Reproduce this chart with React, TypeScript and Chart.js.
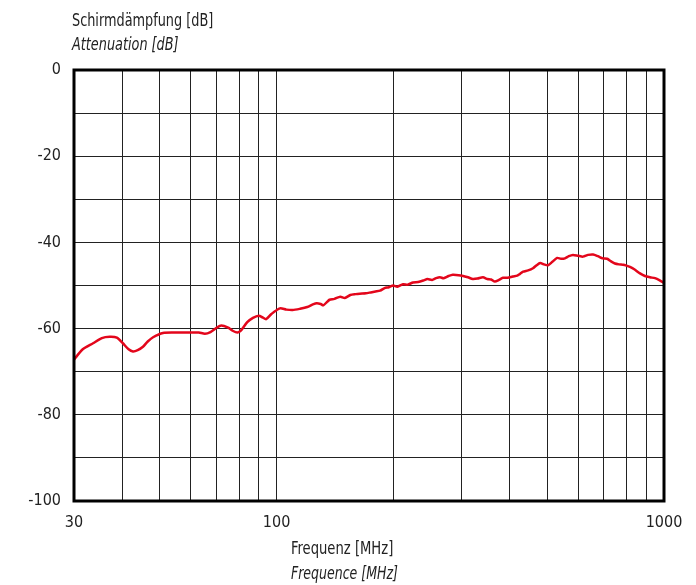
import { useEffect, useRef } from 'react';
import { Chart, registerables } from 'chart.js';

Chart.register(...registerables);

// Frequency in MHz
const FREQ_MHZ = [
  30, 31.6, 33.6, 35.4, 37.1, 38.7, 40.1, 41.5, 42.6, 43.8, 45.2, 46.5, 48, 50.9, 55, 60.9, 63, 65.3, 67.5, 70,
  72, 75, 77, 79.3, 81, 84, 86.9, 90, 92, 94, 97, 102, 106, 110, 115, 120, 124, 127, 130, 132,
  135, 137, 141, 146, 150, 155, 160, 164, 170, 175, 180, 185, 190, 195, 200, 205, 212, 218, 225, 232,
  240, 245, 252, 258, 264, 270, 278, 285, 295, 303, 312, 321, 330, 341, 350, 358, 366, 375, 384, 395,
  407, 418, 425, 433, 446, 459, 469, 479, 490, 502, 515, 530, 542, 555, 568, 582, 600, 618, 637, 656,
  675, 695, 713, 730, 747, 765, 784, 800, 817, 840, 867, 893, 920, 948, 975, 1000,
];

// Screening attenuation in dB
const ATTEN_DB = [
  -67.2, -64.8, -63.4, -62.2, -61.9, -62.1, -63.4, -64.8, -65.3, -65.0, -64.2, -63.0, -62.0, -61.0, -60.9, -60.9, -60.9, -61.2, -60.8, -59.8,
  -59.3, -59.8, -60.5, -60.9, -60.4, -58.5, -57.5, -57.0, -57.4, -57.8, -56.6, -55.3, -55.6, -55.7, -55.4, -55.0, -54.4, -54.1, -54.3, -54.6,
  -53.8, -53.3, -53.1, -52.6, -52.9, -52.2, -52.0, -51.9, -51.8, -51.6, -51.4, -51.2, -50.6, -50.4, -50.0, -50.3, -49.7, -49.8, -49.3, -49.2,
  -48.8, -48.5, -48.7, -48.3, -48.1, -48.3, -47.8, -47.5, -47.6, -47.8, -48.1, -48.5, -48.4, -48.1, -48.5, -48.6, -49.1, -48.7, -48.2, -48.2,
  -47.9, -47.7, -47.3, -46.8, -46.5, -46.0, -45.3, -44.8, -45.1, -45.3, -44.5, -43.6, -43.8, -43.7, -43.2, -42.9, -43.1, -43.3, -42.9, -42.8,
  -43.2, -43.7, -43.8, -44.4, -44.9, -45.1, -45.2, -45.4, -45.7, -46.3, -47.2, -47.8, -48.1, -48.3, -48.8, -49.4,
];

const X_GRID = [30, 40, 50, 60, 70, 80, 90, 100, 200, 300, 400, 500, 600, 700, 800, 900, 1000];
const X_LABELED = [30, 100, 1000];
const Y_MIN = -100;
const Y_MAX = 0;
const Y_STEP = 10;
const Y_LABEL_STEP = 20;

const Y_TITLE = ['Schirmdämpfung [dB]', 'Attenuation [dB]'];
const X_TITLE = ['Frequenz [MHz]', 'Frequence [MHz]'];

const FONT_FAMILY = "'DejaVu Sans Condensed', 'DejaVu Sans', sans-serif";
const TEXT_COLOR = '#222';

function drawNarrow(ctx: CanvasRenderingContext2D, text: string, x: number, y: number, font: string, sx: number) {
  ctx.save();
  ctx.font = font;
  ctx.translate(x, y);
  ctx.scale(sx, 1);
  ctx.fillText(text, 0, 0);
  ctx.restore();
}

const framePlugin = {
  id: 'frameAndTitles',
  afterDraw(chart: any) {
    const { ctx, chartArea } = chart;
    const { left, top, right, bottom } = chartArea;
    ctx.save();
    ctx.strokeStyle = '#000';
    ctx.lineWidth = 3;
    ctx.strokeRect(left, top, right - left, bottom - top);

    ctx.fillStyle = TEXT_COLOR;
    ctx.textAlign = 'left';
    ctx.textBaseline = 'alphabetic';
    drawNarrow(ctx, Y_TITLE[0], 72, 26, `17px ${FONT_FAMILY}`, 0.84);
    drawNarrow(ctx, Y_TITLE[1], 72, 50, `italic 17px ${FONT_FAMILY}`, 0.84);
    drawNarrow(ctx, X_TITLE[0], 291, 554, `17px ${FONT_FAMILY}`, 0.86);
    drawNarrow(ctx, X_TITLE[1], 291, 579, `italic 17px ${FONT_FAMILY}`, 0.82);
    ctx.restore();
  },
};

export default function App() {
  const canvasRef = useRef<HTMLCanvasElement | null>(null);

  useEffect(() => {
    if (!canvasRef.current) return;
    const points = FREQ_MHZ.map((f, i) => ({ x: f, y: ATTEN_DB[i] }));
    const chart = new Chart(canvasRef.current, {
      type: 'line',
      data: {
        datasets: [
          {
            data: points,
            borderColor: '#e3061b',
            borderWidth: 2.5,
            pointRadius: 0,
            tension: 0.25,
            fill: false,
          },
        ],
      },
      options: {
        responsive: false,
        animation: false,
        layout: { padding: { top: 70, right: 32, left: 0, bottom: 0 } },
        plugins: {
          legend: { display: false },
          tooltip: { enabled: false },
          title: { display: false },
        },
        scales: {
          x: {
            type: 'logarithmic',
            min: 30,
            max: 1000,
            afterBuildTicks: (scale: any) => {
              scale.ticks = X_GRID.map((v) => ({ value: v }));
            },
            afterFit: (scale: any) => {
              scale.height = 84;
            },
            ticks: {
              autoSkip: false,
              maxRotation: 0,
              padding: 12,
              color: TEXT_COLOR,
              font: { family: FONT_FAMILY, size: 16 },
              callback: (v: any) => (X_LABELED.includes(Number(v)) ? String(v) : ''),
            },
            grid: { color: '#222', lineWidth: 1, drawTicks: false },
            border: { display: false },
          },
          y: {
            type: 'linear',
            min: Y_MIN,
            max: Y_MAX,
            afterFit: (scale: any) => {
              scale.width = 74;
            },
            ticks: {
              stepSize: Y_STEP,
              padding: 13,
              color: TEXT_COLOR,
              font: { family: FONT_FAMILY, size: 16 },
              callback: (v: any) => (Number(v) % Y_LABEL_STEP === 0 ? String(v) : ''),
            },
            grid: { color: '#222', lineWidth: 1, drawTicks: false },
            border: { display: false },
          },
        },
      },
      plugins: [framePlugin],
    });
    return () => chart.destroy();
  }, []);

  return (
    <div style={{ position: 'absolute', left: 0, top: 0, width: 696, height: 585, background: '#fff' }}>
      <canvas ref={canvasRef} width={696} height={585} style={{ width: 696, height: 585 }} />
    </div>
  );
}
